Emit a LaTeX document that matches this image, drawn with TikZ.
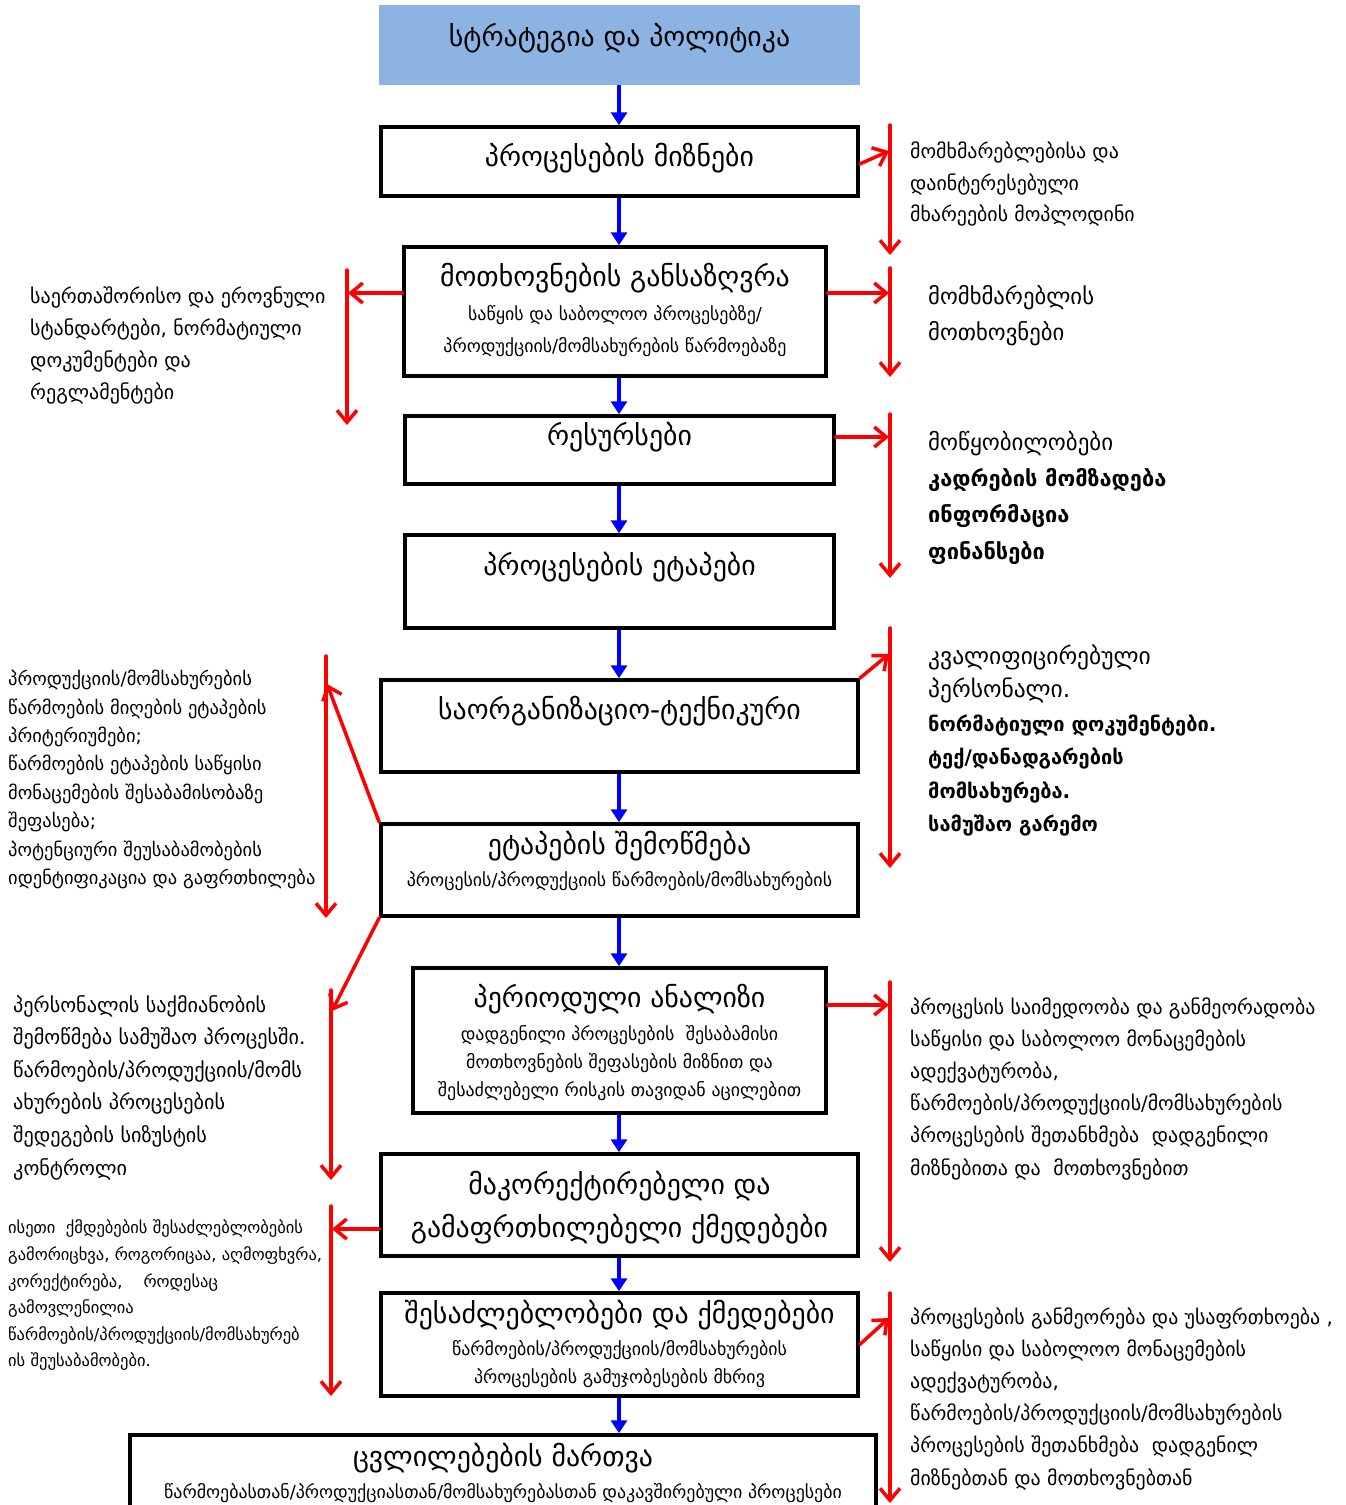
\documentclass[tikz,border=0pt]{standalone}
\usepackage{fontspec}
\setmainfont{DejaVu Sans}
\usetikzlibrary{arrows.meta}
\definecolor{stratblue}{HTML}{8DB3E2}
\definecolor{flowblue}{HTML}{0000FF}
\definecolor{flowred}{HTML}{FF0000}
\newcommand{\fsz}[2]{\fontsize{#1}{#2}\selectfont}
\begin{document}
\begin{tikzpicture}[x=1pt,y=-1pt,
  box/.style={draw=black,line width=3.5pt,fill=white,inner sep=0pt},
  ttl/.style={font=\fsz{27.8}{43}, align=center, inner sep=0pt},
  sub/.style={font=\fsz{17.9}{28}, align=center, inner sep=0pt},
  barrow/.style={draw=flowblue,line width=4pt,-{Triangle[length=13pt,width=16pt]}},
  rarrow/.style={draw=flowred,line width=3.5pt,line cap=round,-{Straight Barb[length=12pt,width=20pt]}},
  note/.style={anchor=west, align=left, inner sep=0pt},
]
\useasboundingbox (0,0) rectangle (1345,1505);
\clip (0,0) rectangle (1345,1505);

% ---------- boxes ----------
\node[fill=stratblue, inner sep=0pt, minimum width=481pt, minimum height=80pt] (b0) at (619.5,45) {};
\node[box, minimum width=477pt, minimum height=69pt]  (b1) at (619.5,161.5) {};
\node[box, minimum width=422pt, minimum height=129pt] (b2) at (615,311.5) {};
\node[box, minimum width=429pt, minimum height=68pt]  (b3) at (619.5,450) {};
\node[box, minimum width=429pt, minimum height=93pt]  (b4) at (619.5,581.5) {};
\node[box, minimum width=477pt, minimum height=92pt]  (b5) at (619.5,726) {};
\node[box, minimum width=477pt, minimum height=92pt]  (b6) at (619.5,870) {};
\node[box, minimum width=413pt, minimum height=145pt] (b7) at (619.5,1040.5) {};
\node[box, minimum width=477pt, minimum height=102pt] (b8) at (619.5,1205) {};
\node[box, minimum width=477pt, minimum height=103pt] (b9) at (619.5,1344.5) {};
\node[box, minimum width=746pt, minimum height=80pt]  (b10) at (503,1475) {};

% ---------- box texts ----------
\node[ttl] (t0) at (619.5,38) {სტრატეგია და პოლიტიკა};
\node[ttl] (t1) at (619.5,158) {პროცესების მიზნები};
\node[ttl] (t2) at (615,278) {მოთხოვნების განსაზღვრა};
\node[sub, font=\fsz{17.9}{32}] (s2) at (615,331) {საწყის და საბოლოო პროცესებზე/\\პროდუქციის/მომსახურების წარმოებაზე};
\node[ttl] (t3) at (619.5,437) {რესურსები};
\node[ttl] (t4) at (619.5,567) {პროცესების ეტაპები};
\node[ttl] (t5) at (619.5,711) {საორგანიზაციო-ტექნიკური};
\node[ttl] (t6) at (619.5,846) {ეტაპების შემოწმება};
\node[sub] (s6) at (619.5,881) {პროცესის/პროდუქციის წარმოების/მომსახურების};
\node[ttl] (t7) at (619.5,999) {პერიოდული ანალიზი};
\node[sub] (s7) at (619.5,1063) {დადგენილი პროცესების\ \ შესაბამისი\\მოთხოვნების შეფასების მიზნით და\\შესაძლებელი რისკის თავიდან აცილებით};
\node[ttl] (t8) at (619.5,1207.5) {მაკორექტირებელი და\\გამაფრთხილებელი ქმედებები};
\node[ttl] (t9) at (619.5,1315) {შესაძლებლობები და ქმედებები};
\node[sub] (s9) at (619.5,1364) {წარმოების/პროდუქციის/მომსახურების\\პროცესების გამუჯობესების მხრივ};
\node[ttl] (t10) at (503,1458) {ცვლილებების მართვა};
\node[sub] (s10) at (503,1493) {წარმოებასთან/პროდუქციასთან/მომსახურებასთან დაკავშირებული პროცესები};

% ---------- side notes ----------
\node[note, font=\fsz{19.9}{31.5}] (n1) at (910,184.5) {მომხმარებლებისა და\\დაინტერესებული\\მხარეების მოპლოდინი};
\node[note, font=\fsz{22.7}{36}] (n2) at (928,316) {მომხმარებლის\\მოთხოვნები};
\node[note, font=\fsz{20}{32.3}] (n3) at (30,345.5) {საერთაშორისო და ეროვნული\\სტანდარტები, ნორმატიული\\დოკუმენტები და\\რეგლამენტები};
\node[note, font=\fsz{22.9}{36.3}] (n4) at (928,497.5) {მოწყობილობები\\{\fsz{21.8}{36.3}\bfseries კადრების მომზადება}\\{\fsz{21.8}{36.3}\bfseries ინფორმაცია}\\{\fsz{21.8}{36.3}\bfseries ფინანსები}};
\node[note, font=\fsz{23.5}{33.4}] (n5) at (928,740.5) {კვალიფიცირებული\\პერსონალი.\\{\fsz{20}{33.4}\bfseries ნორმატიული დოკუმენტები.}\\{\fsz{20}{33.4}\bfseries ტექ/დანადგარების}\\{\fsz{20}{33.4}\bfseries მომსახურება.}\\{\fsz{20}{33.4}\bfseries სამუშაო გარემო}};
\node[note, font=\fsz{18.5}{28.4}] (n6) at (8,779.5) {პროდუქციის/მომსახურების\\წარმოების მიღების ეტაპების\\პრიტერიუმები;\\წარმოების ეტაპების საწყისი\\მონაცემების შესაბამისობაზე\\შეფასება;\\პოტენციური შეუსაბამობების\\იდენტიფიკაცია და გაფრთხილება};
\node[note, font=\fsz{20.2}{32.6}] (n7) at (13,1087.5) {პერსონალის საქმიანობის\\შემოწმება სამუშაო პროცესში.\\წარმოების/პროდუქციის/მომს\\ახურების პროცესების\\შედეგების სიზუსტის\\კონტროლი};
\node[note, font=\fsz{19.9}{32.2}] (n8) at (910,1088.5) {პროცესის საიმედოობა და განმეორადობა\\საწყისი და საბოლოო მონაცემების\\ადექვატურობა,\\წარმოების/პროდუქციის/მომსახურების\\პროცესების შეთანხმება\ \ დადგენილი\\მიზნებითა და\ \ მოთხოვნებით};
\node[note, font=\fsz{16.5}{26.6}] (n9) at (8,1295.5) {ისეთი\ \ ქმდებების შესაძლებლობების\\გამორიცხვა, როგორიცაა, აღმოფხვრა,\\კორექტირება,\ \ \ \ როდესაც\\გამოვლენილია\\წარმოების/პროდუქციის/მომსახურებ\\ის შეუსაბამობები.};
\node[note, font=\fsz{19.9}{32.2}] (n10) at (910,1398.5) {პროცესების განმეორება და უსაფრთხოება ,\\საწყისი და საბოლოო მონაცემების\\ადექვატურობა,\\წარმოების/პროდუქციის/მომსახურების\\პროცესების შეთანხმება\ \ დადგენილ\\მიზნებთან და მოთხოვნებთან};

% ---------- blue flow ----------
\coordinate (axis) at (619,0);
\draw[barrow] (axis |- b0.south) -- (axis |- b1.north);
\draw[barrow] (axis |- b1.south) -- (axis |- b2.north);
\draw[barrow] (axis |- b2.south) -- (axis |- b3.north);
\draw[barrow] (axis |- b3.south) -- (axis |- b4.north);
\draw[barrow] (axis |- b4.south) -- (axis |- b5.north);
\draw[barrow] (axis |- b5.south) -- (axis |- b6.north);
\draw[barrow] (axis |- b6.south) -- (axis |- b7.north);
\draw[barrow] (axis |- b7.south) -- (axis |- b8.north);
\draw[barrow] (axis |- b8.south) -- (axis |- b9.north);
\draw[barrow] (axis |- b9.south) -- (axis |- b10.north);

% ---------- red side lines ----------
\coordinate (vR1a) at (890,125);  \coordinate (vR1b) at (890,255);
\coordinate (vR2a) at (890,268);  \coordinate (vR2b) at (890,377);
\coordinate (vR3a) at (890,414);  \coordinate (vR3b) at (890,578);
\coordinate (vR4a) at (890,628);  \coordinate (vR4b) at (890,868);
\coordinate (vR5a) at (890,982);  \coordinate (vR5b) at (890,1262);
\coordinate (vR6a) at (890,1293); \coordinate (vR6b) at (890,1503);
\coordinate (vL1a) at (347,270);  \coordinate (vL1b) at (347,425);
\coordinate (vL2a) at (326,656);  \coordinate (vL2b) at (326,918);
\coordinate (vL3a) at (331,990);  \coordinate (vL3b) at (331,1180);
\coordinate (vL4a) at (331,1206); \coordinate (vL4b) at (331,1396);
\foreach \v in {vR1,vR2,vR3,vR4,vR5,vR6,vL1,vL2,vL3,vL4}
  \draw[rarrow] (\v a) -- (\v b);

\coordinate (in1) at (889,151);
\coordinate (in2) at (889,293);
\coordinate (in3) at (348,293);
\coordinate (in4) at (889,437);
\coordinate (in5) at (889,654);
\coordinate (in6) at (327,684);
\coordinate (in7) at (332,1011);
\coordinate (in8) at (889,1005);
\coordinate (in9) at (332,1229);
\coordinate (in10) at (889,1318);

\draw[rarrow] ([yshift=-2.5pt]b1.east) -- (in1);
\draw[rarrow] (in2 -| b2.east) -- (in2);
\draw[rarrow] (in3 -| b2.west) -- (in3);
\draw[rarrow] (in4 -| b3.east) -- (in4);
\draw[rarrow] (b5.north east) -- (in5);
\draw[rarrow] (b6.north west) -- (in6);
\draw[rarrow] (b6.south west) -- (in7);
\draw[rarrow] (in8 -| b7.east) -- (in8);
\draw[rarrow] (in9 -| b8.west) -- (in9);
\draw[rarrow] (b9.east) -- (in10);
\end{tikzpicture}
\end{document}
